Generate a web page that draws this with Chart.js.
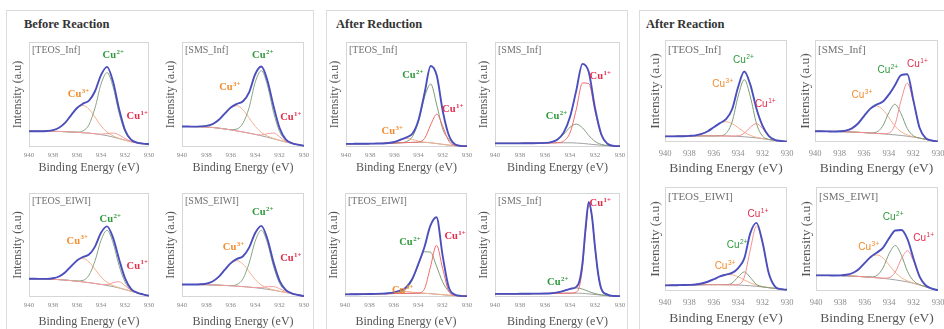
<!DOCTYPE html>
<html>
<head>
<meta charset="utf-8">
<script src="https://cdn.jsdelivr.net/npm/chart.js@4.4.1/dist/chart.umd.min.js"></script>
<style>
    body { margin: 0; width: 944px; height: 329px; background: #fff; position: relative; overflow: hidden; font-family: "Liberation Serif", serif; }
    .group { position: absolute; border: 1px solid #dcdcdc; box-sizing: border-box; }
    .gtitle { position: absolute; font-weight: bold; font-size: 12.5px; color: #333; white-space: nowrap; }
    .panel { position: absolute; }
</style>
</head>
<body>
<div class="group" style="left:6px;top:10px;width:308px;height:330px"></div>
<div class="group" style="left:326px;top:10px;width:302px;height:330px"></div>
<div class="group" style="left:639px;top:10px;width:320px;height:330px"></div>
<div class="gtitle" style="left:24px;top:17px">Before Reaction</div>
<div class="gtitle" style="left:336px;top:17px">After Reduction</div>
<div class="gtitle" style="left:646px;top:17px">After Reaction</div>

<script>
// Energie-Achse (eV), links 940 -> rechts 930
const energyGrid = [940, 939.5, 939, 938.5, 938, 937.5, 937, 936.5, 936, 935.5, 935, 934.5, 934, 933.5, 933, 932.5, 932, 931.5, 931, 930.5, 930];
const energyFine = [940, 939.5, 939, 938.5, 938, 937.5, 937, 936.5, 936, 935.5, 935, 934.5, 934, 933.5, 933.25, 933, 932.75, 932.5, 932.25, 932, 931.75, 931.5, 931, 930.5, 930];
const xTicks = [940, 938, 936, 934, 932, 930];

// --- Before Reaction ---
const brTeosInfEnv = [0.15,0.15,0.15,0.153,0.161,0.183,0.229,0.302,0.371,0.413,0.442,0.531,0.685,0.763,0.624,0.364,0.162,0.071,0.042,0.032,0.028];
const brTeosInfCu2 = [0.15,0.15,0.15,0.15,0.15,0.148,0.146,0.143,0.142,0.153,0.213,0.372,0.598,0.708,0.575,0.326,0.146,0.067,0.042,0.032,0.028];
const brTeosInfCu3 = [0.15,0.15,0.15,0.153,0.161,0.183,0.229,0.302,0.369,0.396,0.361,0.285,0.201,0.143,0.106,0.083,0.065,0.05,0.04,0.032,0.028];
const brTeosInfCu1 = [0.15,0.15,0.15,0.15,0.15,0.148,0.146,0.143,0.14,0.136,0.132,0.126,0.122,0.128,0.133,0.115,0.081,0.054,0.04,0.032,0.028];
const brTeosInfBg  = [0.15,0.15,0.15,0.15,0.15,0.148,0.146,0.143,0.14,0.136,0.132,0.126,0.118,0.108,0.095,0.08,0.065,0.05,0.04,0.032,0.028];

const brSmsInfEnv = [0.195,0.195,0.194,0.196,0.201,0.218,0.257,0.318,0.376,0.411,0.436,0.521,0.693,0.766,0.634,0.391,0.181,0.073,0.037,0.022,0.012];
const brSmsInfCu2 = [0.195,0.195,0.194,0.193,0.19,0.186,0.18,0.172,0.165,0.171,0.227,0.375,0.616,0.727,0.589,0.333,0.147,0.066,0.037,0.022,0.012];
const brSmsInfCu3 = [0.195,0.195,0.194,0.196,0.201,0.218,0.257,0.318,0.374,0.393,0.354,0.278,0.197,0.139,0.104,0.081,0.063,0.048,0.035,0.022,0.012];
const brSmsInfCu1 = [0.195,0.195,0.194,0.193,0.19,0.186,0.18,0.172,0.163,0.153,0.143,0.132,0.12,0.114,0.127,0.133,0.097,0.055,0.035,0.022,0.012];
const brSmsInfBg  = [0.195,0.195,0.194,0.193,0.19,0.186,0.18,0.172,0.163,0.153,0.143,0.132,0.12,0.107,0.093,0.078,0.063,0.048,0.035,0.022,0.012];

const brTeosEiwiEnv = [0.175,0.175,0.174,0.174,0.18,0.197,0.235,0.295,0.352,0.385,0.408,0.484,0.617,0.679,0.571,0.366,0.181,0.079,0.042,0.025,0.012];
const brTeosEiwiCu2 = [0.175,0.175,0.174,0.172,0.17,0.167,0.163,0.158,0.154,0.16,0.21,0.347,0.545,0.641,0.524,0.304,0.144,0.071,0.042,0.025,0.012];
const brTeosEiwiCu3 = [0.175,0.175,0.174,0.174,0.18,0.197,0.235,0.295,0.35,0.37,0.336,0.267,0.193,0.141,0.11,0.089,0.072,0.056,0.04,0.025,0.012];
const brTeosEiwiCu1 = [0.175,0.175,0.174,0.172,0.17,0.167,0.163,0.158,0.152,0.145,0.138,0.13,0.121,0.119,0.137,0.147,0.109,0.064,0.04,0.025,0.012];
const brTeosEiwiBg  = [0.175,0.175,0.174,0.172,0.17,0.167,0.163,0.158,0.152,0.145,0.138,0.13,0.121,0.111,0.1,0.087,0.072,0.056,0.04,0.025,0.012];

const brSmsEiwiEnv = [0.12,0.12,0.12,0.122,0.129,0.149,0.193,0.261,0.326,0.366,0.392,0.475,0.616,0.684,0.558,0.333,0.156,0.069,0.036,0.02,0.008];
const brSmsEiwiCu2 = [0.12,0.12,0.12,0.119,0.118,0.116,0.114,0.111,0.11,0.12,0.176,0.325,0.537,0.642,0.522,0.295,0.131,0.06,0.034,0.02,0.008];
const brSmsEiwiCu3 = [0.12,0.12,0.12,0.122,0.129,0.149,0.193,0.261,0.324,0.35,0.316,0.245,0.168,0.115,0.085,0.068,0.055,0.044,0.032,0.02,0.008];
const brSmsEiwiCu1 = [0.12,0.12,0.12,0.119,0.118,0.116,0.114,0.111,0.108,0.104,0.1,0.095,0.091,0.091,0.099,0.1,0.08,0.053,0.034,0.02,0.008];
const brSmsEiwiBg  = [0.12,0.12,0.12,0.119,0.118,0.116,0.114,0.111,0.108,0.104,0.1,0.095,0.089,0.082,0.074,0.065,0.055,0.044,0.032,0.02,0.008];

// --- After Reduction ---
const redTeosInfEnv = [0.03,0.03,0.031,0.031,0.032,0.033,0.034,0.038,0.048,0.069,0.092,0.128,0.26,0.518,0.771,0.68,0.341,0.112,0.026,0.011,0.008];
const redTeosInfCu2 = [0.03,0.03,0.031,0.031,0.032,0.033,0.034,0.036,0.038,0.041,0.052,0.1,0.247,0.478,0.6,0.4,0.17,0.074,0.023,0.011,0.008];
const redTeosInfCu3 = [0.03,0.03,0.031,0.031,0.032,0.033,0.034,0.038,0.048,0.068,0.082,0.072,0.055,0.046,0.04,0.033,0.025,0.018,0.013,0.01,0.008];
const redTeosInfCu1 = [0.03,0.03,0.031,0.031,0.032,0.033,0.034,0.036,0.038,0.04,0.042,0.044,0.048,0.082,0.211,0.313,0.196,0.056,0.016,0.01,0.008];
const redTeosInfBg  = [0.03,0.03,0.031,0.031,0.032,0.033,0.034,0.036,0.038,0.04,0.042,0.044,0.045,0.044,0.04,0.033,0.025,0.018,0.013,0.01,0.008];

const redSmsInfEnv = [0.035,0.035,0.035,0.035,0.035,0.036,0.036,0.037,0.039,0.047,0.072,0.139,0.285,0.537,0.792,0.714,0.372,0.122,0.031,0.011,0.008];
const redSmsInfCu2 = [0.035,0.035,0.035,0.035,0.035,0.036,0.036,0.037,0.039,0.047,0.071,0.122,0.188,0.218,0.182,0.11,0.053,0.025,0.014,0.01,0.008];
const redSmsInfCu1 = [0.035,0.035,0.035,0.035,0.035,0.036,0.036,0.037,0.038,0.039,0.041,0.057,0.135,0.357,0.61,0.604,0.341,0.114,0.03,0.011,0.008];
const redSmsInfBg  = [0.035,0.035,0.035,0.035,0.035,0.036,0.036,0.037,0.038,0.039,0.04,0.04,0.04,0.038,0.034,0.028,0.022,0.017,0.013,0.01,0.008];

const redTeosEiwiEnv = [0.025,0.026,0.027,0.028,0.029,0.03,0.032,0.036,0.045,0.061,0.093,0.171,0.314,0.476,0.686,0.767,0.4,0.096,0.023,0.011,0.008];
const redTeosEiwiCu2 = [0.025,0.026,0.027,0.028,0.029,0.03,0.031,0.032,0.034,0.042,0.074,0.16,0.306,0.435,0.432,0.297,0.146,0.056,0.021,0.011,0.008];
const redTeosEiwiCu3 = [0.025,0.026,0.027,0.028,0.029,0.03,0.032,0.036,0.044,0.053,0.054,0.047,0.04,0.036,0.032,0.027,0.022,0.017,0.013,0.01,0.008];
const redTeosEiwiCu1 = [0.025,0.026,0.027,0.028,0.029,0.03,0.031,0.032,0.033,0.034,0.035,0.036,0.038,0.075,0.286,0.497,0.276,0.057,0.015,0.01,0.008];
const redTeosEiwiBg  = [0.025,0.026,0.027,0.028,0.029,0.03,0.031,0.032,0.033,0.034,0.035,0.036,0.036,0.035,0.032,0.027,0.022,0.017,0.013,0.01,0.008];

// scharfer Peak -> feineres Raster (energyFine)
const redSmsInf2Env = [0.03,0.03,0.03,0.03,0.031,0.031,0.032,0.032,0.033,0.036,0.044,0.059,0.078,0.097,0.148,0.328,0.665,0.914,0.782,0.483,0.226,0.08,0.023,0.01,0.008];
const redSmsInf2Cu2 = [0.03,0.03,0.03,0.03,0.031,0.031,0.032,0.032,0.033,0.036,0.044,0.059,0.078,0.087,0.084,0.076,0.065,0.053,0.042,0.033,0.026,0.02,0.013,0.01,0.008];
const redSmsInf2Cu1 = [0.03,0.03,0.03,0.03,0.031,0.031,0.032,0.032,0.033,0.034,0.035,0.036,0.037,0.047,0.1,0.287,0.633,0.891,0.767,0.474,0.221,0.078,0.023,0.01,0.008];
const redSmsInf2Bg  = [0.03,0.03,0.03,0.03,0.031,0.031,0.032,0.032,0.033,0.034,0.035,0.036,0.037,0.037,0.036,0.035,0.033,0.03,0.027,0.024,0.021,0.018,0.013,0.01,0.008];

// --- After Reaction ---
const rxTeosInfEnv = [0.055,0.055,0.056,0.057,0.06,0.065,0.079,0.105,0.145,0.185,0.224,0.321,0.542,0.691,0.56,0.326,0.158,0.061,0.022,0.01,0.004];
const rxTeosInfCu2 = [0.055,0.055,0.056,0.057,0.058,0.059,0.06,0.06,0.06,0.062,0.084,0.197,0.451,0.611,0.442,0.18,0.057,0.026,0.016,0.009,0.004];
const rxTeosInfCu3 = [0.055,0.055,0.056,0.057,0.06,0.065,0.079,0.105,0.145,0.183,0.199,0.18,0.14,0.096,0.065,0.046,0.034,0.024,0.016,0.009,0.004];
const rxTeosInfCu1 = [0.055,0.055,0.056,0.057,0.058,0.059,0.06,0.06,0.06,0.06,0.059,0.058,0.061,0.086,0.145,0.18,0.131,0.059,0.022,0.01,0.004];
const rxTeosInfBg  = [0.055,0.055,0.056,0.057,0.058,0.059,0.06,0.06,0.06,0.06,0.059,0.057,0.055,0.051,0.046,0.04,0.032,0.024,0.016,0.009,0.004];

const rxSmsInfEnv = [0.105,0.105,0.104,0.103,0.105,0.112,0.134,0.181,0.257,0.327,0.367,0.394,0.464,0.556,0.656,0.664,0.408,0.139,0.038,0.015,0.004];
const rxSmsInfCu2 = [0.105,0.105,0.104,0.103,0.102,0.1,0.098,0.095,0.092,0.089,0.097,0.155,0.287,0.37,0.276,0.132,0.061,0.039,0.026,0.014,0.004];
const rxSmsInfCu3 = [0.105,0.105,0.104,0.103,0.105,0.112,0.134,0.181,0.257,0.326,0.354,0.318,0.24,0.156,0.1,0.069,0.051,0.038,0.026,0.014,0.004];
const rxSmsInfCu1 = [0.105,0.105,0.104,0.103,0.102,0.1,0.098,0.095,0.092,0.088,0.084,0.081,0.087,0.17,0.408,0.577,0.392,0.138,0.038,0.015,0.004];
const rxSmsInfBg  = [0.105,0.105,0.104,0.103,0.102,0.1,0.098,0.095,0.092,0.088,0.084,0.08,0.075,0.07,0.064,0.057,0.048,0.038,0.026,0.014,0.004];

const rxTeosEiwiEnv = [0.054,0.055,0.056,0.057,0.059,0.063,0.072,0.089,0.113,0.14,0.158,0.174,0.221,0.314,0.559,0.655,0.464,0.173,0.045,0.018,0.012];
const rxTeosEiwiCu2 = [0.054,0.055,0.056,0.057,0.058,0.059,0.06,0.061,0.061,0.061,0.061,0.077,0.136,0.184,0.129,0.063,0.04,0.032,0.025,0.018,0.012];
const rxTeosEiwiCu3 = [0.054,0.055,0.056,0.057,0.059,0.063,0.072,0.089,0.113,0.14,0.157,0.156,0.136,0.106,0.078,0.057,0.043,0.033,0.025,0.018,0.012];
const rxTeosEiwiCu1 = [0.054,0.055,0.056,0.057,0.058,0.059,0.06,0.061,0.061,0.061,0.06,0.059,0.063,0.132,0.402,0.625,0.459,0.172,0.045,0.018,0.012];
const rxTeosEiwiBg  = [0.054,0.055,0.056,0.057,0.058,0.059,0.06,0.061,0.061,0.061,0.06,0.059,0.057,0.054,0.05,0.045,0.039,0.032,0.025,0.018,0.012];

const rxSmsEiwiEnv = [0.15,0.15,0.15,0.149,0.15,0.156,0.173,0.21,0.27,0.329,0.37,0.418,0.508,0.582,0.586,0.498,0.308,0.136,0.053,0.023,0.008];
const rxSmsEiwiCu2 = [0.15,0.15,0.15,0.149,0.148,0.146,0.143,0.14,0.136,0.135,0.15,0.223,0.361,0.437,0.344,0.188,0.097,0.061,0.04,0.022,0.008];
const rxSmsEiwiCu3 = [0.15,0.15,0.15,0.149,0.15,0.156,0.173,0.21,0.27,0.326,0.347,0.316,0.249,0.177,0.128,0.097,0.076,0.058,0.04,0.022,0.008];
const rxSmsEiwiCu1 = [0.15,0.15,0.15,0.149,0.148,0.146,0.143,0.14,0.136,0.132,0.127,0.123,0.128,0.182,0.31,0.387,0.286,0.133,0.053,0.023,0.008];
const rxSmsEiwiBg  = [0.15,0.15,0.15,0.149,0.148,0.146,0.143,0.14,0.136,0.132,0.127,0.122,0.115,0.107,0.098,0.087,0.074,0.058,0.04,0.022,0.008];

// Stile je Gruppe
const SERIF = '"Liberation Serif", "Times New Roman", serif';
const SANS = '"Liberation Sans", Arial, sans-serif';
const styleSmall = { tick: 7, title: 12, tag: 10, tagDy: 8, tickPad: 4, labFamily: SERIF, labWeight: 'bold', labSize: 10.5, yW: 18, env: '#4b4fbd', cu2: '#8aa584', cu3: '#f3b28e', cu1: '#f39c9c' };
const styleRed = Object.assign({}, styleSmall, { cu1: '#f26a6a', cu2: '#7e9c78' });
const styleBig = { tick: 8.5, title: 13.5, tag: 11, tagDy: 10, tickPad: 7, labFamily: SANS, labWeight: 'normal', labSize: 10, yW: 18, env: '#4b4fbd', cu2: '#7e9c78', cu3: '#f3b28e', cu1: '#f39090' };
const labelColors = { '2+': '#2e9a3a', '3+': '#f28c2c', '1+': '#e42c4a' };

// Panels: Plotbereich [links, oben, rechts, unten], Beschriftungen in Datenkoordinaten
const panels = [
    { tag: '[TEOS_Inf]', e: energyGrid, env: brTeosInfEnv, cu2: brTeosInfCu2, cu3: brTeosInfCu3, cu1: brTeosInfCu1, bg: brTeosInfBg, box: [29, 42, 149, 147], xH: 28, st: styleSmall,
      labels: [['2+', 933.0, 0.87], ['3+', 935.9, 0.50], ['1+', 931.0, 0.29]] },
    { tag: '[SMS_Inf]', e: energyGrid, env: brSmsInfEnv, cu2: brSmsInfCu2, cu3: brSmsInfCu3, cu1: brSmsInfCu1, bg: brSmsInfBg, box: [182, 42, 304, 147], xH: 28, st: styleSmall,
      labels: [['2+', 933.4, 0.87], ['3+', 936.1, 0.57], ['1+', 931.1, 0.28]] },
    { tag: '[TEOS_EIWI]', e: energyGrid, env: brTeosEiwiEnv, cu2: brTeosEiwiCu2, cu3: brTeosEiwiCu3, cu1: brTeosEiwiCu1, bg: brTeosEiwiBg, box: [29, 193, 149, 297], xH: 32, st: styleSmall,
      labels: [['2+', 933.25, 0.75], ['3+', 936.0, 0.54], ['1+', 931.0, 0.30]] },
    { tag: '[SMS_EIWI]', e: energyGrid, env: brSmsEiwiEnv, cu2: brSmsEiwiCu2, cu3: brSmsEiwiCu3, cu1: brSmsEiwiCu1, bg: brSmsEiwiBg, box: [182, 193, 304, 297], xH: 32, st: styleSmall,
      labels: [['2+', 933.4, 0.81], ['3+', 935.8, 0.48], ['1+', 931.1, 0.37]] },

    { tag: '[TEOS_Inf]', e: energyGrid, env: redTeosInfEnv, cu2: redTeosInfCu2, cu3: redTeosInfCu3, cu1: redTeosInfCu1, bg: redTeosInfBg, box: [346, 42, 467, 147], xH: 28, st: styleRed,
      labels: [['2+', 934.5, 0.68], ['1+', 931.2, 0.36], ['3+', 936.2, 0.15]] },
    { tag: '[SMS_Inf]', e: energyGrid, env: redSmsInfEnv, cu2: redSmsInfCu2, cu3: null, cu1: redSmsInfCu1, bg: redSmsInfBg, box: [495, 42, 620, 147], xH: 28, st: styleRed,
      labels: [['1+', 931.6, 0.67], ['2+', 935.1, 0.29]] },
    { tag: '[TEOS_EIWI]', e: energyGrid, env: redTeosEiwiEnv, cu2: redTeosEiwiCu2, cu3: redTeosEiwiCu3, cu1: redTeosEiwiCu1, bg: redTeosEiwiBg, box: [345, 193, 467, 297], xH: 32, st: styleRed,
      labels: [['2+', 934.7, 0.53], ['1+', 931.0, 0.58], ['3+', 935.3, 0.06]] },
    { tag: '[SMS_Inf]', e: energyFine, env: redSmsInf2Env, cu2: redSmsInf2Cu2, cu3: null, cu1: redSmsInf2Cu1, bg: redSmsInf2Bg, box: [495, 193, 620, 297], xH: 32, st: styleRed,
      labels: [['1+', 931.6, 0.90], ['2+', 935.0, 0.14]] },

    { tag: '[TEOS_Inf]', e: energyGrid, env: rxTeosInfEnv, cu2: rxTeosInfCu2, cu3: rxTeosInfCu3, cu1: rxTeosInfCu1, bg: rxTeosInfBg, box: [665, 40, 787, 142], xH: 35, st: styleBig,
      labels: [['2+', 933.6, 0.80], ['3+', 935.3, 0.57], ['1+', 931.8, 0.37]] },
    { tag: '[SMS_Inf]', e: energyGrid, env: rxSmsInfEnv, cu2: rxSmsInfCu2, cu3: rxSmsInfCu3, cu1: rxSmsInfCu1, bg: rxSmsInfBg, box: [815, 40, 938, 142], xH: 35, st: styleBig,
      labels: [['2+', 934.1, 0.70], ['1+', 931.7, 0.76], ['3+', 936.2, 0.46]] },
    { tag: '[TEOS_EIWI]', e: energyGrid, env: rxTeosEiwiEnv, cu2: rxTeosEiwiCu2, cu3: rxTeosEiwiCu3, cu1: rxTeosEiwiCu1, bg: rxTeosEiwiBg, box: [665, 187, 787, 291], xH: 36, st: styleBig,
      labels: [['1+', 932.4, 0.74], ['2+', 934.1, 0.44], ['3+', 935.1, 0.24]] },
    { tag: '[SMS_EIWI]', e: energyGrid, env: rxSmsEiwiEnv, cu2: rxSmsEiwiCu2, cu3: rxSmsEiwiCu3, cu1: rxSmsEiwiCu1, bg: rxSmsEiwiBg, box: [816, 187, 938, 291], xH: 36, st: styleBig,
      labels: [['2+', 933.7, 0.71], ['1+', 931.2, 0.51], ['3+', 935.7, 0.42]] }
];

// Rahmen um den Plotbereich
const framePlugin = {
    id: 'frame',
    beforeDatasetsDraw(chart) {
        const a = chart.chartArea, ctx = chart.ctx;
        ctx.save();
        ctx.strokeStyle = '#d6d6d6';
        ctx.lineWidth = 1;
        ctx.strokeRect(Math.round(a.left) + 0.5, Math.round(a.top) + 0.5, Math.round(a.right - a.left) - 1, Math.round(a.bottom - a.top) - 1);
        ctx.restore();
    }
};

// Probenname + Cu-Beschriftungen
const labelPlugin = {
    id: 'peakLabels',
    afterDatasetsDraw(chart, args, opts) {
        const ctx = chart.ctx, a = chart.chartArea, st = opts.st;
        ctx.save();
        ctx.fillStyle = '#707070';
        ctx.font = st.tag + 'px ' + SERIF;
        ctx.textBaseline = 'middle';
        ctx.textAlign = 'left';
        ctx.fillText(opts.tag, a.left + 3, a.top + st.tagDy);

        opts.labels.forEach(([sup, e, v]) => {
            const x = chart.scales.x.getPixelForValue(e);
            const y = chart.scales.y.getPixelForValue(v);
            const main = st.labWeight + ' ' + st.labSize + 'px ' + st.labFamily;
            const small = st.labWeight + ' ' + (st.labSize * 0.66).toFixed(1) + 'px ' + st.labFamily;
            ctx.font = main;
            const w1 = ctx.measureText('Cu').width;
            ctx.font = small;
            const w2 = ctx.measureText(sup).width;
            const x0 = x - (w1 + w2) / 2;
            ctx.fillStyle = labelColors[sup];
            ctx.font = main;
            ctx.fillText('Cu', x0, y);
            ctx.font = small;
            ctx.fillText(sup, x0 + w1 + 0.5, y - st.labSize * 0.3);
        });
        ctx.restore();
    }
};

function series(energies, values, color, width) {
    return {
        data: values.map((v, i) => ({ x: energies[i], y: v })),
        borderColor: color,
        borderWidth: width,
        pointRadius: 0,
        fill: false,
        cubicInterpolationMode: 'monotone'
    };
}

const padTop = 2, padRight = 9;

panels.forEach(p => {
    const st = p.st;
    const [L, T, R, B] = p.box;
    const w = (R - L) + st.yW + padRight;
    const h = (B - T) + p.xH + padTop;

    const wrap = document.createElement('div');
    wrap.className = 'panel';
    wrap.style.left = (L - st.yW) + 'px';
    wrap.style.top = (T - padTop) + 'px';
    wrap.style.width = w + 'px';
    wrap.style.height = h + 'px';
    const canvas = document.createElement('canvas');
    canvas.width = w;
    canvas.height = h;
    wrap.appendChild(canvas);
    document.body.appendChild(wrap);

    const datasets = [series(p.e, p.env, st.env, 1.9)];
    if (p.cu1) datasets.push(series(p.e, p.cu1, st.cu1, 1));
    if (p.cu2) datasets.push(series(p.e, p.cu2, st.cu2, 1));
    if (p.cu3) datasets.push(series(p.e, p.cu3, st.cu3, 1));
    datasets.push(series(p.e, p.bg, '#a2a2a2', 1));

    new Chart(canvas, {
        type: 'line',
        data: { datasets: datasets },
        options: {
            responsive: false,
            animation: false,
            devicePixelRatio: 1,
            layout: { padding: { top: padTop, right: padRight, left: 0, bottom: 0 } },
            plugins: {
                legend: { display: false },
                tooltip: { enabled: false },
                peakLabels: { tag: p.tag, labels: p.labels, st: st }
            },
            scales: {
                x: {
                    type: 'linear',
                    min: 930,
                    max: 940,
                    reverse: true,
                    afterBuildTicks: s => { s.ticks = xTicks.map(v => ({ value: v })); },
                    afterFit: s => { s.height = p.xH; s.paddingLeft = 0; s.paddingRight = 0; },
                    grid: { display: false, drawTicks: false },
                    border: { display: false },
                    ticks: { font: { family: SERIF, size: st.tick }, color: '#8a8a8a', padding: st.tickPad, maxRotation: 0, autoSkip: false },
                    title: { display: true, text: 'Binding Energy (eV)', font: { family: SERIF, size: st.title }, color: '#555', padding: 0 }
                },
                y: {
                    min: 0,
                    max: 1,
                    afterFit: s => { s.width = st.yW; },
                    grid: { display: false, drawTicks: false },
                    border: { display: false },
                    ticks: { display: false },
                    title: { display: true, text: 'Intensity (a.u)', font: { family: SERIF, size: st.title }, color: '#555', padding: 0 }
                }
            }
        },
        plugins: [framePlugin, labelPlugin]
    });
});
</script>
</body>
</html>
